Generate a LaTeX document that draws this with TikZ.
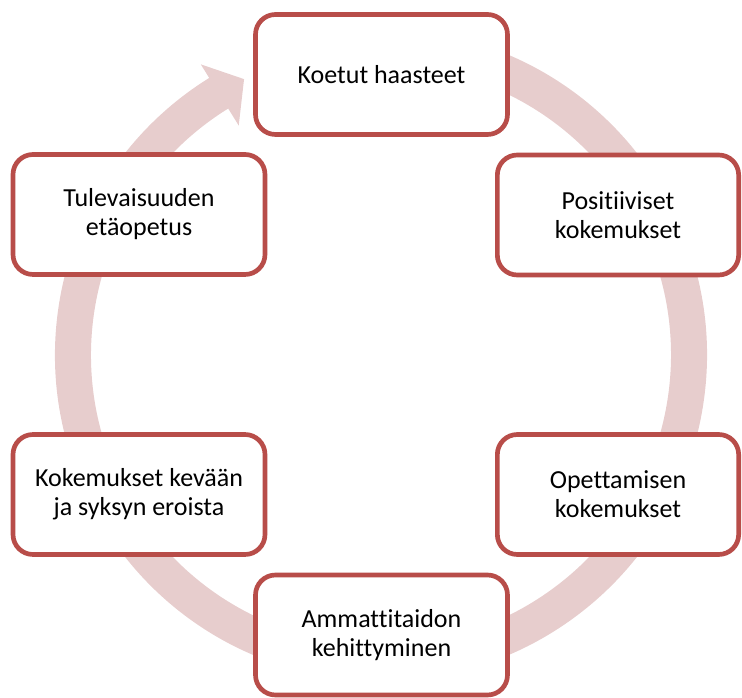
\documentclass[tikz,border=0pt]{standalone}
\usepackage{fontspec}
\setmainfont{Carlito}[Ligatures={NoCommon,NoContextual},
  Contextuals={NoAlternate}]
\usepackage{xcolor}
\usepackage{tikz}
\usetikzlibrary{positioning}
\definecolor{cyclered}{RGB}{184,77,73}
\definecolor{cyclepink}{RGB}{231,205,205}
\tikzset{
  phase/.style={draw=cyclered,line width=3.5pt,fill=white,
    rounded corners=15pt,minimum width=189pt,minimum height=90pt,
    align=center,font=\fontsize{19.5}{21.8}\selectfont},
  narrowphase/.style={phase,minimum width=181pt}
}

\begin{document}
\begin{tikzpicture}[x=0.75pt,y=0.75pt]
        \useasboundingbox (-381,-343) rectangle (361,355);
        %% Cycle ring with arrow head
        \fill[cyclepink]
          (80:326) arc[start angle=80,end angle=-238.2,radius=326]
          -- (121.8:342) -- (116.4:308) -- (121.8:270)
          -- (-238.2:290) arc[start angle=-238.2,end angle=80,radius=290]
          -- cycle;
        %% Steps
        \node[phase] (haasteet) at (0.5,280.5)
          {Koetut haasteet};
        \node[narrowphase] (positiiviset) at (237,140)
          {Positiiviset\\kokemukset};
        \node[narrowphase] (opettaminen) at (237,-139.5)
          {Opettamisen\\kokemukset};
        \node[phase] (ammattitaito) at (0.5,-280)
          {Ammattitaidon\\kehittyminen};
        \node[phase] (erot) at (-242,-139.5)
          {Kokemukset kevään\\ja syksyn eroista};
        \node[phase] (tulevaisuus) at (-242,140.5)
          {Tulevaisuuden\\etäopetus};
      \end{tikzpicture}
\end{document}
